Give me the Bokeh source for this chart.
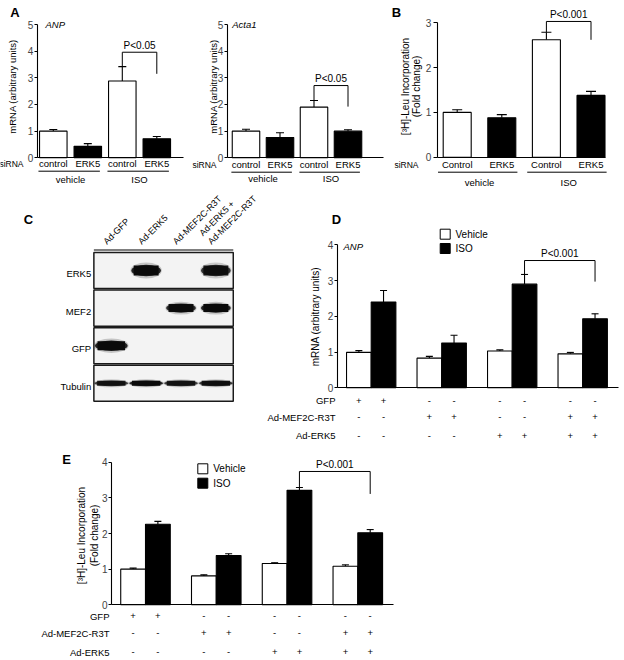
import math
from bokeh.plotting import figure
from bokeh.models import (Range1d, LinearAxis, FixedTicker, Whisker, TeeHead,
                          ColumnDataSource, Grid)
from bokeh.layouts import row, column
from bokeh.core.properties import value
from bokeh.embed import file_html
from bokeh.resources import INLINE

FONT = "Liberation Sans"

# ---------------- data ----------------
treat_groups = ["vehicle", "ISO"]
sirna_a = ["control", "ERK5", "control", "ERK5"]
sirna_b = ["Control", "ERK5", "Control", "ERK5"]

anp_a_mean = [1.00, 0.43, 2.88, 0.71]
anp_a_err = [0.06, 0.10, 0.54, 0.09]
anp_a_sig = ("P<0.05", 3.96, 3.15)          # label, bracket top, right leg end

acta1_mean = [1.00, 0.76, 1.90, 1.00]
acta1_err = [0.07, 0.18, 0.25, 0.05]
acta1_sig = ("P<0.05", 2.71, 1.92)
a_yticks = [0, 1, 2, 3, 4, 5]

leu_b_mean = [1.00, 0.88, 2.62, 1.38]
leu_b_err = [0.06, 0.07, 0.17, 0.09]
leu_b_sig = ("P<0.001", 3.03, 2.62)
b_yticks = [0, 1, 2, 3]

blot_lanes = ["Ad-GFP", "Ad-ERK5", "Ad-MEF2C-R3T", "Ad-ERK5 +\nAd-MEF2C-R3T"]
blot_rows = ["ERK5", "MEF2", "GFP", "Tubulin"]
blot_signal = [[0.0, 1.0, 0.0, 0.9],
               [0.0, 0.0, 0.95, 1.0],
               [1.0, 0.0, 0.0, 0.0],
               [0.85, 1.0, 0.85, 0.9]]

series_names = ["Vehicle", "ISO"]
d_vehicle = [0.99, 0.83, 1.03, 0.95]
d_vehicle_err = [0.05, 0.05, 0.03, 0.04]
d_iso = [2.40, 1.25, 2.90, 1.93]
d_iso_err = [0.32, 0.22, 0.27, 0.14]
d_sig = ("P<0.001", 3.56, 2.97)

e_vehicle = [1.00, 0.81, 1.16, 1.08]
e_vehicle_err = [0.03, 0.03, 0.02, 0.04]
e_iso = [2.26, 1.38, 3.21, 2.02]
e_iso_err = [0.08, 0.05, 0.08, 0.09]
e_sig = ("P<0.001", 3.74, 3.11)
de_yticks = [0, 1, 2, 3, 4]

treat_rows = ["GFP", "Ad-MEF2C-R3T", "Ad-ERK5"]
treat_gfp = ["+", "-", "-", "-"]
treat_mef2c = ["-", "+", "-", "+"]
treat_erk5 = ["-", "-", "+", "+"]


# ---------------- helpers ----------------
def make_fig(x0, y0, w, h, xa_px, xa_val, xppu, ya_px, yppu):
    xs = xa_val + (x0 - xa_px) / xppu
    xe = xa_val + (x0 + w - xa_px) / xppu
    ye = (ya_px - y0) / yppu
    ys = (ya_px - (y0 + h)) / yppu
    p = figure(width=w, height=h, x_range=Range1d(xs, xe), y_range=Range1d(ys, ye),
               x_axis_location=None, y_axis_location=None, toolbar_location=None,
               output_backend="svg", min_border=0, outline_line_color=None,
               background_fill_color="white", border_fill_color="white")
    for r in list(p.center):
        if isinstance(r, Grid):
            r.visible = False
    fx = lambda px: xa_val + (px - xa_px) / xppu
    fy = lambda py: (ya_px - py) / yppu
    return p, fx, fy


def txt(p, xs, ys, texts, size=9.5, align="center", baseline="middle", angle=0.0,
        style="normal"):
    p.text(x=xs, y=ys, text=texts, text_font=value(FONT),
           text_font_size=value(f"{size}px"), text_align=align,
           text_baseline=baseline, angle=angle, text_font_style=style,
           text_color="black")


def errbars(p, xs, means, errs, cap=8):
    src = ColumnDataSource(dict(x=xs, lo=means, hi=[m + e for m, e in zip(means, errs)]))
    wk = Whisker(source=src, base="x", lower="lo", upper="hi", dimension="height",
                 line_color="black", line_width=1.1, lower_head=None,
                 upper_head=TeeHead(size=cap, line_color="black", line_width=1.1))
    p.add_layout(wk)


def yaxis(p, loc, ticks, size=10, tick_out=3, standoff=1):
    ax = LinearAxis(fixed_location=loc, ticker=FixedTicker(ticks=ticks),
                    bounds=(ticks[0], ticks[-1]), major_tick_in=0,
                    major_tick_out=tick_out, minor_tick_in=0, minor_tick_out=0,
                    major_label_text_font=FONT, major_label_text_font_size=f"{size}px",
                    major_label_standoff=standoff, axis_line_width=1.1,
                    major_tick_line_width=1)
    p.add_layout(ax, "left")


def xbase(p, x0, x1):
    ax = LinearAxis(fixed_location=0, ticker=FixedTicker(ticks=[]), bounds=(x0, x1),
                    major_tick_in=0, major_tick_out=0, minor_tick_in=0,
                    minor_tick_out=0, major_label_text_font_size="0px",
                    axis_line_width=1.1)
    p.add_layout(ax, "below")


Y0, H1 = 0, 188


def sirna_panel(x0, w, c1, pitch, zero_px, ppu, axis_px, base_end_px, means, errs,
                yticks, names, sig, gene, gene_px, ylab_lines, ylab_xs, ylab_y,
                ylab_size, row_ys, sirna_right, letter, letter_xy, bw_px,
                tick_out=3, standoff=1, cap=8):
    p, fx, fy = make_fig(x0, Y0, w, H1, c1, 1, pitch, zero_px, ppu)
    xs = [1 + i for i in range(len(means))]
    colors = ["white", "black"] * (len(means) // 2)
    p.vbar(x=xs, top=means, bottom=0, width=bw_px / pitch, fill_color=colors,
           line_color="black", line_width=1.1)
    errbars(p, xs, means, errs, cap)
    yaxis(p, fx(axis_px), yticks, tick_out=tick_out, standoff=standoff)
    xbase(p, fx(axis_px), fx(base_end_px))
    label, top, rend = sig
    p.line(x=[xs[2], xs[2], xs[3], xs[3]], y=[means[2] + errs[2], top, top, rend],
           line_color="black", line_width=1)
    txt(p, [(xs[2] + xs[3]) / 2], [top + 1.5 / ppu], [label], 10, baseline="bottom")
    if gene:
        txt(p, [fx(gene_px[0])], [fy(gene_px[1])], [gene], 9.5, align="left",
            style="italic")
    for line, lx in zip(ylab_lines, ylab_xs):
        txt(p, [fx(lx)], [fy(ylab_y)], [line], ylab_size, angle=math.pi / 2)
    y_names, y_line, y_group = row_ys
    txt(p, xs, [fy(y_names)] * len(xs), names, 9.5)
    txt(p, [fx(sirna_right)], [fy(y_names)], ["siRNA"], 8.5, align="right")
    for gi, g in enumerate(treat_groups):
        a, b = xs[2 * gi], xs[2 * gi + 1]
        p.line(x=[a - 0.43, b + 0.35], y=[fy(y_line)] * 2, line_color="black",
               line_width=1)
        txt(p, [(a + b) / 2], [fy(y_group)], [g], 9.5)
    if letter:
        txt(p, [fx(letter_xy[0])], [fy(letter_xy[1])], [letter], 13, style="bold")
    return p


def pair_panel(x0, y0, w, h, c1, pitch, zero_px, ppu, axis_px, base_end_px, veh,
               veh_err, iso, iso_err, sig, gene, gene_px, ylab_lines, ylab_xs,
               ylab_y, legend_px, table_ys, table_right, letter, letter_xy):
    p, fx, fy = make_fig(x0, y0, w, h, c1, 1, pitch, zero_px, ppu)
    g = [1 + i for i in range(len(veh))]
    off = 0.175
    xv = [i - off for i in g]
    xi = [i + off for i in g]
    p.vbar(x=xv, top=veh, bottom=0, width=2 * off, fill_color="white",
           line_color="black", line_width=1.1)
    p.vbar(x=xi, top=iso, bottom=0, width=2 * off, fill_color="black",
           line_color="black", line_width=1.1)
    errbars(p, xv, veh, veh_err, 7)
    errbars(p, xi, iso, iso_err, 7)
    yaxis(p, fx(axis_px), de_yticks)
    xbase(p, fx(axis_px), fx(base_end_px))
    label, top, rend = sig
    p.line(x=[xi[2], xi[2], xi[3], xi[3]], y=[iso[2] + iso_err[2], top, top, rend],
           line_color="black", line_width=1)
    txt(p, [(xi[2] + xi[3]) / 2], [top + 1.5 / ppu], [label], 10, baseline="bottom")
    if gene:
        txt(p, [fx(gene_px[0])], [fy(gene_px[1])], [gene], 9.5, align="left",
            style="italic")
    for line, lx in zip(ylab_lines, ylab_xs):
        txt(p, [fx(lx)], [fy(ylab_y)], [line], 10, angle=math.pi / 2)
    lx, ly1, ly2, tx = legend_px
    p.scatter(x=[fx(lx)] * 2, y=[fy(ly1), fy(ly2)], marker="square", size=10,
              fill_color=["white", "black"], line_color="black", line_width=1)
    txt(p, [fx(tx)] * 2, [fy(ly1), fy(ly2)], series_names, 10, align="left")
    for r, (name, marks) in enumerate(zip(treat_rows,
                                          [treat_gfp, treat_mef2c, treat_erk5])):
        yy = fy(table_ys[r])
        txt(p, [fx(table_right)], [yy], [name], 9.5, align="right")
        xs_all, t_all = [], []
        for k in range(len(marks)):
            xs_all += [xv[k], xi[k]]
            t_all += [marks[k]] * 2
        txt(p, xs_all, [yy] * len(xs_all), t_all, 9.5)
    txt(p, [fx(letter_xy[0])], [fy(letter_xy[1])], [letter], 13, style="bold")
    return p


# ---------------- panel A / B ----------------
pA1 = sirna_panel(0, 190, 52.8, 34.5, 157.3, 26.66, 36.7, 183.3, anp_a_mean,
                  anp_a_err, a_yticks, sirna_a, anp_a_sig, "ANP", (45, 24),
                  ["mRNA (arbitrary units)"], [12], 86, 9.5, (163, 170.7, 178.5),
                  23, "A", (14.5, 12), 27.5)
pA2 = sirna_panel(190, 200, 245.5, 34.0, 157.3, 26.66, 226.7, 383, acta1_mean,
                  acta1_err, a_yticks, sirna_a, acta1_sig, "Acta1", (231.7, 24),
                  ["mRNA (arbitrary units)"], [212.5], 86, 9.5, (164, 171.7, 178.3),
                  216, None, None, 27.5)
pB = sirna_panel(390, 234, 456.7, 44.6, 156.7, 44.8, 436.7, 605, leu_b_mean,
                 leu_b_err, b_yticks, sirna_b, leu_b_sig, None, None,
                 ["[³H]-Leu Incorporation", "(Fold change)"], [405, 416], 86, 10,
                 (164.3, 171.7, 182), 418, "B", (396, 12), 28,
                 tick_out=4, standoff=2, cap=10)

# ---------------- panel C (blot) ----------------
pC, cfx, cfy = make_fig(0, 188, 262, 262, 110.8, 0, 34.85, 270, 37.6)
nl = len(blot_lanes)
nr = len(blot_rows)
pC.rect(x=[(nl - 1) / 2] * nr, y=[-i for i in range(nr)], width=nl, height=0.96,
        fill_color="#f3f3f3", line_color="#1a1a1a", line_width=1.5)
band_w_px = [29, 29, 32, 33]
band_h_px = [10, 8, 9, 5]
bx, by, bw, bh, bs = [], [], [], [], []
for i in range(nr):
    for j in range(nl):
        s = blot_signal[i][j]
        if s > 0:
            bx.append(j)
            by.append(-i)
            bw.append(band_w_px[i] / 34.85)
            bh.append(band_h_px[i] / 37.6)
            bs.append(s)
# soft halo, then solid core with rounded ends
pC.ellipse(x=bx, y=by, width=[w * 1.08 for w in bw], height=[h * 1.6 for h in bh],
           fill_color="#222222", fill_alpha=[0.22 * s for s in bs], line_color=None)
pC.ellipse(x=bx, y=by, width=[w * 1.02 for w in bw], height=[h * 1.15 for h in bh],
           fill_color="#111111", fill_alpha=[0.9 * s for s in bs], line_color=None)
pC.rect(x=bx, y=by, width=[w * 0.86 for w in bw], height=bh,
        fill_color="#0a0a0a", fill_alpha=bs, line_color=None)
pC.line(x=[-0.5, nl - 0.5], y=[cfy(249.5)] * 2, line_color="black", line_width=1.2)
txt(pC, [j - 3 / 34.85 for j in range(nl)], [cfy(246)] * nl, blot_lanes, 9,
    align="left", baseline="bottom", angle=math.pi / 4)
txt(pC, [cfx(90.7)] * nr, [-i - 0.08 for i in range(nr)], blot_rows, 9.5,
    align="right")
txt(pC, [cfx(28)], [cfy(219)], ["C"], 13, style="bold")

# ---------------- panel D / E ----------------
pD = pair_panel(262, 188, 362, 262, 370.7, 70.5, 387.3, 35.75, 336.7, 618,
                d_vehicle, d_vehicle_err, d_iso, d_iso_err, d_sig, "ANP",
                (343, 245.7), ["mRNA (arbitrary units)"], [315], 316,
                (444.7, 233.7, 248, 455), [400, 416.7, 435], 335, "D", (336, 219))
pE = pair_panel(0, 450, 624, 210, 145, 70.77, 604.3, 35.65, 111, 393.3,
                e_vehicle, e_vehicle_err, e_iso, e_iso_err, e_sig, None, None,
                ["[³H]-Leu Incorporation", "(Fold change)"], [81, 94.3], 535,
                (202.3, 468.3, 482.7, 212.7), [615.7, 632.7, 651.7], 109, "E",
                (66, 459))

layout = column(row(pA1, pA2, pB), row(pC, pD), pE)
open("out.html", "w").write(file_html(layout, INLINE))
